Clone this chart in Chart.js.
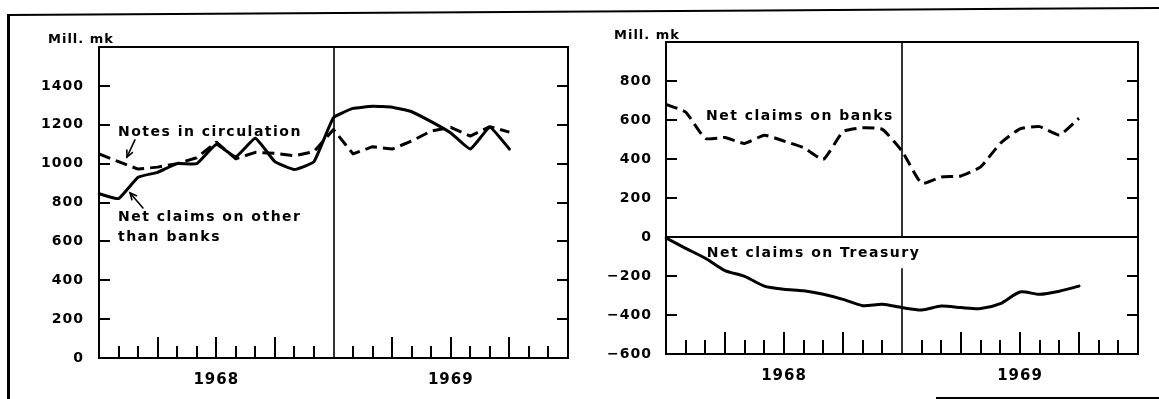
<!DOCTYPE html>
<html><head><meta charset="utf-8">
<script src="https://cdn.jsdelivr.net/npm/chart.js@4.4.1/dist/chart.umd.min.js"></script>
<style>
html,body{margin:0;padding:0;background:#fff;}
#wrap{position:relative;width:1159px;height:399px;overflow:hidden;background:#fff;}
#frame{position:absolute;left:0;top:0;}
#c1{position:absolute;left:0;top:0;}
#c2{position:absolute;left:580px;top:0;}
</style></head><body>
<div id="wrap">
<svg id="frame" width="1159" height="399">
  <line x1="8.5" y1="14" x2="8.5" y2="399" stroke="#000" stroke-width="3"/>
  <line x1="7" y1="15" x2="1159" y2="8" stroke="#000" stroke-width="2"/>
  <line x1="936" y1="398" x2="1159" y2="398" stroke="#000" stroke-width="2"/>
</svg>
<canvas id="c1" width="580" height="399"></canvas>
<canvas id="c2" width="579" height="399"></canvas>
</div>
<script>
// ---- data (monthly, Jan 1968 .. Oct 1969) ----
const months = ['1968-01','1968-02','1968-03','1968-04','1968-05','1968-06','1968-07','1968-08','1968-09','1968-10','1968-11','1968-12',
                '1969-01','1969-02','1969-03','1969-04','1969-05','1969-06','1969-07','1969-08','1969-09','1969-10','1969-11','1969-12','1970-01'];
const notesInCirculation      = [1050, 1010, 972, 982, 1000, 1030, 1110, 1025, 1058, 1053, 1040, 1062, 1175, 1050, 1087, 1075, 1116, 1168, 1187, 1142, 1190, 1162];
const netClaimsOtherThanBanks = [845, 820, 930, 955, 1000, 1000, 1098, 1035, 1130, 1010, 970, 1010, 1237, 1284, 1295, 1290, 1267, 1216, 1158, 1075, 1187, 1075];
const netClaimsOnBanks        = [680, 640, 505, 510, 480, 522, 492, 458, 398, 540, 560, 552, 441, 275, 308, 313, 360, 480, 555, 566, 523, 609];
const netClaimsOnTreasury     = [-5, -58, -109, -172, -202, -252, -268, -276, -294, -320, -352, -345, -362, -374, -354, -362, -367, -342, -282, -294, -278, -252];
const leftYTickLabels  = [0, 200, 400, 600, 800, 1000, 1200, 1400];
const rightYTickLabels = [-600, -400, -200, 0, 200, 400, 600, 800];
const unitText = 'Mill. mk';

const FONT = "'DejaVu Sans', 'Liberation Sans', Arial, sans-serif";

function fmt(v, list) {
  if (!list.includes(v)) return '';
  return v < 0 ? '\u2212' + Math.abs(v) : String(v);
}
function yearLabel(i) {
  return months[i] && months[i].endsWith('-07') ? months[i].slice(0, 4) : '';
}

const decor = {
  id: 'decor',
  beforeDraw(chart) { chart.ctx.letterSpacing = '1px'; },
  beforeDatasetsDraw(chart, args, o) {
    const {ctx, chartArea: a, scales: {x, y}} = chart;
    const ln = (x1, y1, x2, y2) => { ctx.beginPath(); ctx.moveTo(x1, y1); ctx.lineTo(x2, y2); ctx.stroke(); };
    ctx.save();
    ctx.strokeStyle = '#000';
    ctx.lineWidth = 2;
    ctx.strokeRect(a.left, a.top, a.right - a.left, a.bottom - a.top);
    // inward y ticks, both sides
    y.ticks.forEach(t => {
      if (t.value <= y.min || t.value >= y.max || (o.zeroLine && t.value === 0)) return;
      const py = Math.round(y.getPixelForValue(t.value));
      ln(a.left, py, a.left + o.yTickLen, py);
      ln(a.right - o.yTickLen, py, a.right, py);
    });
    // upward month ticks
    x.ticks.forEach((t, i) => {
      if (i === 0 || i === x.ticks.length - 1 || i === o.divider) return;
      const px = Math.round(x.getPixelForValue(i));
      ln(px, a.bottom, px, a.bottom - (i % 3 === 0 ? o.tallTick : o.shortTick));
    });
    if (o.zeroLine) {
      const pz = Math.round(y.getPixelForValue(0));
      ln(a.left, pz, a.right, pz);
    }
    // year divider
    ctx.lineWidth = 1.6;
    const pd = Math.round(x.getPixelForValue(o.divider));
    if (o.dividerGap) {
      ln(pd, a.top, pd, y.getPixelForValue(o.dividerGap[0]));
      ln(pd, y.getPixelForValue(o.dividerGap[1]), pd, a.bottom);
    } else {
      ln(pd, a.top, pd, a.bottom);
    }
    ctx.restore();
  },
  afterDatasetsDraw(chart, args, o) {
    const {ctx, chartArea: a, scales: {x, y}} = chart;
    ctx.save();
    ctx.fillStyle = '#000';
    ctx.strokeStyle = '#000';
    ctx.textAlign = 'left';
    ctx.textBaseline = 'alphabetic';
    // unit label
    ctx.font = `bold 13px ${FONT}`;
    ctx.letterSpacing = '1px';
    ctx.fillText(unitText, a.left + o.unit.dx, a.top + o.unit.dy);
    // series labels
    ctx.font = `bold 14px ${FONT}`;
    ctx.letterSpacing = '1.5px';
    o.labels.forEach(l => ctx.fillText(l.text, x.getPixelForValue(l.m), y.getPixelForValue(l.v)));
    // arrows
    ctx.lineWidth = 1.6;
    ctx.lineCap = 'round';
    o.arrows.forEach(ar => {
      const x1 = x.getPixelForValue(ar.from[0]), y1 = y.getPixelForValue(ar.from[1]);
      const x2 = x.getPixelForValue(ar.to[0]), y2 = y.getPixelForValue(ar.to[1]);
      ctx.beginPath(); ctx.moveTo(x1, y1); ctx.lineTo(x2, y2); ctx.stroke();
      const ang = Math.atan2(y2 - y1, x2 - x1), L = 7, w = 0.45;
      ctx.beginPath();
      ctx.moveTo(x2 - L * Math.cos(ang - w), y2 - L * Math.sin(ang - w));
      ctx.lineTo(x2, y2);
      ctx.lineTo(x2 - L * Math.cos(ang + w), y2 - L * Math.sin(ang + w));
      ctx.stroke();
    });
    ctx.restore();
  }
};

function makeChart(id, datasets, yMin, yMax, yList, pad, xH, yW, yPad, decorOpts) {
  return new Chart(document.getElementById(id), {
    type: 'line',
    data: { labels: months, datasets },
    options: {
      responsive: false, animation: false, events: [],
      layout: { padding: pad },
      plugins: { legend: { display: false }, tooltip: { enabled: false }, decor: decorOpts },
      scales: {
        x: {
          type: 'category', offset: false,
          grid: { display: false }, border: { display: false },
          ticks: { autoSkip: false, maxRotation: 0, minRotation: 0, padding: 5, color: '#000',
                   font: { family: FONT, size: 15, weight: 'bold' }, callback: (v, i) => yearLabel(i) },
          afterFit: s => { s.height = xH; }
        },
        y: {
          min: yMin, max: yMax,
          grid: { display: false }, border: { display: false },
          ticks: { stepSize: 200, padding: yPad, color: '#000',
                   font: { family: FONT, size: 14, weight: 'bold' }, callback: v => fmt(v, yList) },
          afterFit: s => { s.width = yW; }
        }
      }
    },
    plugins: [decor]
  });
}

const solid = { borderColor: '#000', borderWidth: 3, pointRadius: 0, fill: false, borderJoinStyle: 'round', borderCapStyle: 'round' };
const dashed = { borderColor: '#000', borderWidth: 3, pointRadius: 0, fill: false, borderDash: [12, 6], borderJoinStyle: 'round' };

makeChart('c1', [
    Object.assign({ label: 'Net claims on other than banks', data: netClaimsOtherThanBanks, tension: 0.12 }, solid),
    Object.assign({ label: 'Notes in circulation', data: notesInCirculation, tension: 0 }, dashed)
  ], 0, 1600, leftYTickLabels,
  { left: 0, right: 12, top: 47, bottom: 0 }, 41, 99, 7,
  { yTickLen: 11, shortTick: 12, tallTick: 21, divider: 12, dividerGap: null, zeroLine: false,
    unit: { dx: -51, dy: -4 },
    labels: [
      { text: 'Notes in circulation', m: 0.97, v: 1144 },
      { text: 'Net claims on other', m: 0.97, v: 706 },
      { text: 'than banks', m: 0.97, v: 602 }
    ],
    arrows: [
      { from: [1.84, 1122], to: [1.43, 1034] },
      { from: [2.25, 772], to: [1.59, 849] }
    ] });

makeChart('c2', [
    Object.assign({ label: 'Net claims on banks', data: netClaimsOnBanks, tension: 0.15 }, dashed),
    Object.assign({ label: 'Net claims on Treasury', data: netClaimsOnTreasury, tension: 0.25 }, solid)
  ], -600, 1000, rightYTickLabels,
  { left: 0, right: 21, top: 42, bottom: 0 }, 45, 86, 6,
  { yTickLen: 11, shortTick: 14, tallTick: 22, divider: 12, dividerGap: [0, -160], zeroLine: true,
    unit: { dx: -52, dy: -3 },
    labels: [
      { text: 'Net claims on banks', m: 2.03, v: 600 },
      { text: 'Net claims on Treasury', m: 2.07, v: -103 }
    ],
    arrows: [] });
</script>
</body></html>
